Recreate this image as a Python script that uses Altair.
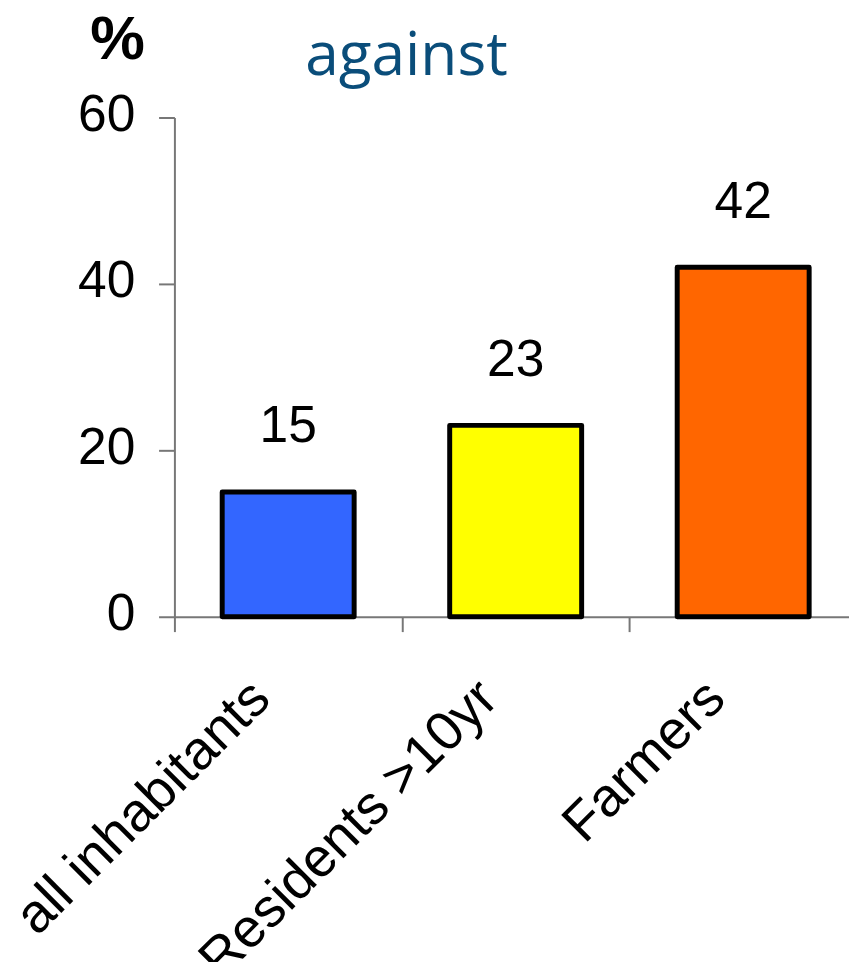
import altair as alt
import pandas as pd

categories = ["all inhabitants", "Residents >10yr", "Farmers"]
values = [15, 23, 42]
colors = ["#3366ff", "#ffff00", "#ff6600"]
labels = ["15", "23", "42"]
y_ticks = [0, 20, 40, 60]

df = pd.DataFrame({"cat": categories, "val": values, "lab": labels, "col": colors})

FONT = "Liberation Sans"
AXC = "#777777"

x = alt.X(
    "cat:N",
    sort=categories,
    scale=alt.Scale(paddingInner=0, paddingOuter=0),
    axis=alt.Axis(
        title=None,
        labelAngle=-45,
        labelAlign="right",
        labelBaseline="middle",
        labelFont=FONT,
        labelFontSize=55,
        labelColor="black",
        labelPadding=58,
        labelOffset=-28,
        labelLimit=0,
        tickBand="extent",
        tickSize=15,
        tickColor=AXC,
        tickWidth=2,
        domainColor=AXC,
        domainWidth=2,
    ),
)

y = alt.Y(
    "val:Q",
    scale=alt.Scale(domain=[0, 60], nice=False),
    axis=alt.Axis(
        values=y_ticks,
        grid=False,
        title="%",
        titleAngle=0,
        titleFont=FONT,
        titleFontSize=62,
        titleFontWeight="bold",
        titleColor="black",
        titleX=-58,
        titleY=-60,
        titleAlign="center",
        titleBaseline="alphabetic",
        labelFont=FONT,
        labelFontSize=52,
        labelColor="black",
        labelPadding=24,
        labelBaseline="middle",
        labelOffset=-3,
        tickSize=16,
        tickColor=AXC,
        tickWidth=2,
        domainColor=AXC,
        domainWidth=2,
    ),
)

bars = alt.Chart(df).mark_bar(
    width=alt.RelativeBandSize(0.58),
    stroke="black",
    strokeWidth=5,
    strokeJoin="round",
).encode(
    x=x,
    y=y,
    color=alt.Color("col:N", scale=None),
)

texts = alt.Chart(df).mark_text(
    font=FONT,
    fontSize=52,
    color="black",
    baseline="alphabetic",
    dy=-50,
).encode(
    x=alt.X("cat:N", sort=categories),
    y=alt.Y("val:Q"),
    text="lab:N",
)

chart = (
    alt.layer(bars, texts)
    .properties(
        width=689,
        height=504,
        title=alt.Title(
            "against",
            anchor="start",
            frame="group",
            dx=132,
            dy=84,
            font="Open Sans",
            fontSize=61,
            fontWeight="normal",
            color="#0a4d7a",
        ),
        autosize=alt.AutoSizeParams(type="none"),
        padding={"left": 168, "top": 106, "right": -8, "bottom": 344},
    )
    .configure_view(stroke=None)
)

chart.save("out.html", embed_options={"renderer": "svg", "actions": False})
